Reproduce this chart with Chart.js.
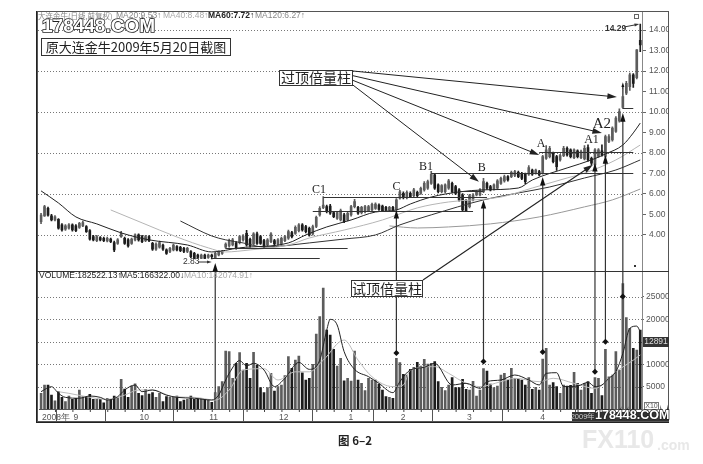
<!DOCTYPE html>
<html>
<head>
<meta charset="utf-8">
<script src="https://cdn.jsdelivr.net/npm/chart.js@4/dist/chart.umd.min.js"></script>
<style>
  html, body { margin: 0; padding: 0; background: #fff; }
  canvas { display: block; filter: blur(0.35px); }
</style>
</head>
<body>
<canvas id="kline" width="703" height="464"></canvas>
<script>
// Daily prices, ten days to a row
const opens = [
  4.65,4.93,5.30,4.93,4.73,4.76,4.49,4.28,4.33,4.49,
  4.44,4.37,4.44,4.41,4.21,3.92,3.72,3.87,3.84,3.71,
  3.80,3.63,3.59,3.92,3.84,3.76,3.59,3.76,4.00,3.92,
  3.72,3.92,3.59,3.30,3.40,3.51,3.27,3.19,3.27,3.43,
  3.40,3.35,3.19,3.19,3.10,3.02,2.86,3.02,2.90,3.02,
  2.86,3.02,3.10,3.40,3.46,3.51,3.62,3.62,3.76,4.08,
  3.79,3.56,4.05,3.92,3.72,3.51,3.67,3.72,3.56,3.56,
  3.72,3.84,4.11,4.08,4.21,4.49,4.41,4.32,4.05,4.41,
  4.98,5.33,5.38,5.41,5.09,4.81,4.73,4.98,4.73,4.98,
  5.38,5.35,5.09,5.14,5.19,5.22,5.30,5.46,5.41,5.35,
  5.22,5.35,5.25,5.79,6.03,5.82,6.03,5.92,6.08,6.03,
  6.20,6.28,6.52,6.93,6.44,6.11,6.11,6.28,6.52,6.36,
  6.20,5.95,5.66,5.38,5.71,5.95,5.95,6.11,6.52,6.36,
  6.24,6.28,6.52,6.64,6.85,6.85,6.90,7.06,7.01,6.96,
  6.96,7.17,7.01,7.09,7.01,7.74,7.82,7.99,7.82,7.66,
  7.87,8.23,8.15,7.77,8.10,7.77,7.71,8.26,7.74,7.42,
  7.83,8.10,7.83,8.56,8.64,9.05,9.57,10.22,10.92,11.24,
  11.81,11.68,13.50
];
const closes = [
  4.97,5.38,4.97,4.73,4.89,4.33,4.24,4.44,4.49,4.24,
  4.21,4.57,4.60,4.16,3.79,3.76,3.92,3.76,3.72,3.84,
  3.67,3.27,3.76,4.08,3.59,3.46,3.80,4.00,3.76,3.67,
  3.92,3.72,3.30,3.56,3.63,3.30,3.10,3.35,3.51,3.27,
  3.23,3.19,3.35,2.94,2.86,2.90,3.02,2.86,3.02,2.94,
  3.10,3.19,3.19,3.56,3.72,3.76,3.35,3.92,3.95,3.51,
  3.46,4.05,3.59,3.59,3.46,3.76,4.05,3.56,3.76,3.84,
  3.92,4.16,3.92,4.37,4.49,4.24,4.16,4.00,4.41,4.86,
  5.30,5.46,5.14,5.06,4.89,5.09,5.19,4.65,5.06,5.38,
  5.63,5.06,5.35,5.38,5.38,5.50,5.51,5.25,5.19,5.22,
  5.35,5.22,5.71,6.11,5.82,6.08,5.87,6.20,5.92,6.28,
  6.52,6.60,6.96,6.28,6.11,6.41,6.44,6.64,6.11,6.03,
  5.71,5.22,5.17,5.92,5.95,6.11,6.20,6.60,6.28,6.20,
  6.44,6.64,6.76,6.85,6.68,7.06,7.09,6.85,6.76,6.60,
  7.29,6.96,7.17,6.93,7.82,8.15,8.23,7.58,7.33,7.87,
  8.23,7.90,7.82,8.15,7.82,8.07,8.23,7.66,7.50,8.15,
  8.15,7.91,8.80,8.80,9.21,9.70,10.02,10.75,11.40,11.81,
  11.40,13.03,13.28
];
const highs = [
  5.05,5.45,5.36,5.00,4.95,4.80,4.55,4.50,4.55,4.54,
  4.50,4.62,4.68,4.46,4.26,3.98,3.98,3.92,3.90,3.89,
  3.85,3.70,3.82,4.18,3.90,3.82,3.85,4.06,4.05,3.98,
  3.98,3.97,3.64,3.62,3.70,3.56,3.32,3.40,3.56,3.48,
  3.45,3.40,3.40,3.24,3.15,3.07,3.07,3.07,3.07,3.07,
  3.15,3.25,3.25,3.62,3.80,3.84,3.68,3.98,4.02,4.22,
  3.85,4.12,4.14,3.98,3.78,3.82,4.12,3.78,3.82,3.90,
  3.98,4.24,4.18,4.44,4.56,4.55,4.47,4.38,4.48,4.92,
  5.38,5.87,5.46,5.50,5.15,5.15,5.26,5.05,5.12,5.45,
  5.74,5.40,5.40,5.44,5.44,5.56,5.57,5.52,5.46,5.40,
  5.40,5.40,5.78,6.18,6.10,6.15,6.10,6.28,6.14,6.34,
  6.60,6.68,7.10,6.98,6.50,6.46,6.50,6.72,6.58,6.42,
  6.26,6.02,5.72,5.98,6.02,6.16,6.26,6.76,6.58,6.42,
  6.50,6.70,6.82,6.92,6.90,7.12,7.15,7.12,7.06,7.02,
  7.38,7.22,7.22,7.15,7.88,8.36,8.32,8.05,7.88,7.94,
  8.32,8.30,8.20,8.20,8.16,8.14,8.36,8.40,7.80,8.22,
  8.22,8.40,8.88,8.90,9.28,9.78,10.15,11.10,11.50,11.90,
  11.88,13.05,14.29
];
const lows = [
  4.55,4.90,4.92,4.68,4.68,4.28,4.18,4.22,4.28,4.18,
  4.16,4.32,4.40,4.12,3.74,3.71,3.67,3.71,3.67,3.66,
  3.62,3.18,3.54,3.88,3.54,3.40,3.54,3.71,3.70,3.62,
  3.67,3.67,3.25,3.25,3.35,3.25,3.05,3.14,3.22,3.22,
  3.18,3.14,3.14,2.89,2.84,2.86,2.84,2.84,2.85,2.83,
  2.84,2.98,3.05,3.34,3.40,3.46,3.30,3.56,3.70,3.45,
  3.40,3.50,3.54,3.54,3.40,3.45,3.62,3.50,3.50,3.50,
  3.67,3.78,3.86,4.02,4.15,4.19,4.10,3.94,3.99,4.36,
  4.92,5.28,5.08,5.00,4.84,4.76,4.68,4.60,4.68,4.92,
  5.32,5.00,5.03,5.08,5.14,5.17,5.25,5.20,5.14,5.17,
  5.18,5.18,5.20,5.74,5.76,5.76,5.82,5.86,5.86,5.98,
  6.14,6.22,6.46,6.22,6.05,6.05,6.05,6.22,6.05,5.96,
  5.65,5.16,5.13,5.32,5.66,5.90,5.90,6.06,6.22,6.15,
  6.18,6.22,6.46,6.58,6.62,6.80,6.85,6.80,6.70,6.50,
  6.90,6.90,6.96,6.88,6.96,7.68,7.76,7.52,7.15,7.60,
  7.82,7.85,7.76,7.72,7.76,7.72,7.66,7.60,7.42,7.36,
  7.78,7.85,7.78,8.50,8.58,9.00,9.50,10.18,10.85,11.05,
  11.20,11.62,12.95
];
const volumes = [
  3500,5350,5350,3100,1800,3900,2600,1650,2900,2150,
  2400,4250,2750,2750,3300,2150,2150,2150,1400,2400,
  2150,2900,2500,6600,4450,2600,5100,5600,3500,3000,
  4400,3350,3650,2600,3500,1650,2750,2600,2600,2900,
  1650,2000,2150,2900,2150,2300,2300,2150,2150,1500,
  3650,5000,6100,12950,12800,6850,10200,12570,8700,10200,
  6850,12650,9800,4760,3650,4760,7950,4000,5000,5350,
  7440,11700,9080,10900,11800,8100,6470,6850,9970,16700,
  20600,27000,17600,16500,13300,9600,11300,6300,6850,6250,
  12950,6470,5730,4090,6850,6470,6470,5580,4240,2750,
  2600,2380,11300,10340,7740,7590,8850,9300,10400,9600,
  11100,10000,10200,10560,6100,4840,4100,5360,7000,4760,
  4760,6620,4390,4240,6175,2900,4240,9000,8480,5580,
  4760,5130,7590,7960,6470,9080,6850,6700,6470,5360,
  7000,4390,4840,4240,11160,13540,5360,5880,5000,3500,
  5360,5130,5280,8180,5730,4240,5730,6100,3500,7000,
  6850,2980,13300,7200,7590,12800,8700,28000,20400,18000,
  13540,13170,17600
];

// Moving averages, read at the bends of each curve: [day, value]
const ma20 = [[0,6.15],[5,5.56],[10,4.88],[16,4.54],[23,4.10],[31,3.76],[42,3.51],[49,3.17],[57,3.37],[71,3.61],[76,4.00],[82,4.39],[89,4.73],[96,5.12],[102,5.22],[106,5.51],[112,5.85],[120,6.10],[127,6.20],[137,6.29],[141,6.68],[151,7.27],[158,7.66],[162,7.95],[167,8.39],[170,8.98],[172,9.46]];
const ma40 = [[20,5.22],[29,4.59],[39,3.90],[48,3.37],[53,3.17],[60,3.27],[71,3.51],[77,3.85],[87,4.24],[98,4.73],[108,5.32],[117,5.61],[132,5.85],[141,6.29],[151,6.78],[156,7.02],[165,7.66],[172,8.39]];
const ma60 = [[40,4.68],[49,3.95],[53,3.76],[58,3.61],[64,3.41],[77,3.61],[87,3.80],[96,4.00],[103,4.49],[112,4.98],[127,5.71],[137,6.05],[146,6.34],[156,6.78],[165,7.17],[172,7.66]];
const ma120 = [[100,4.44],[108,4.34],[117,4.39],[129,4.54],[143,4.88],[156,5.37],[164,5.71],[172,6.24]];
const volMa5 = [[0,3870],[3,4980],[5,3500],[7,2600],[11,2400],[14,2900],[17,2600],[19,2000],[22,2750],[24,4240],[27,5350],[29,3870],[32,4240],[36,3100],[39,2600],[44,2400],[49,2000],[51,3100],[53,6470],[54,7960],[57,10800],[59,9600],[61,10200],[64,8700],[67,5000],[70,6850],[74,10400],[77,8850],[80,10900],[82,17600],[83,20000],[85,18750],[87,12800],[90,8850],[94,7220],[97,5730],[101,3650],[103,6100],[106,8700],[110,9300],[113,10200],[118,5360],[122,5730],[126,4610],[128,6100],[132,6470],[136,7590],[140,6470],[143,5360],[145,7960],[148,8100],[150,5000],[154,5130],[157,5950],[159,5000],[161,5360],[163,6850],[165,8330],[167,12400],[169,18000],[171,18500],[172,17260]];
const volMa10 = [[5,3870],[8,3500],[13,2750],[19,2150],[24,3100],[28,4240],[32,4240],[38,2750],[44,2600],[50,2000],[54,4240],[58,8700],[64,9000],[68,6470],[73,8300],[77,8300],[81,10900],[87,15400],[91,10900],[95,7200],[101,5000],[104,5350],[106,8700],[113,9450],[117,7960],[122,5730],[126,5000],[132,6100],[136,6850],[143,6100],[147,6850],[153,5730],[159,4600],[165,8330],[170,10900],[172,12050]];

// Axis ticks
const priceTicks = [14,13,12,11,10,9,8,7,6,5,4];
const volumeTicks = [25000,20000,15000,10000,5000];
const monthStarts = [0,9,28,48,68,88,103,122,143];
const monthNames = ['2008年','9','10','11','12','1','2','3','4'];

// Hand drawn notes of the book, in day / price / volume units
const levelLines = [[49,80,2.88],[53,88,3.37],[78,124,5.19],[81,128,5.85],[120,127,6.16],[112,170,7.03],[143,170,8.07],[167,170,10.2]];
const riseDays = [50,102,127,144,159,162,167];
const riseVolumes = [3650,12500,10600,12700,8300,15000,25100];
const risePrices = [2.63,5.22,5.71,6.83,7.51,7.90,9.95];
const overDays = [165.3,161,143,125.7];
const overPrices = [10.73,8.98,7.9,6.59];
const letterNames = ['C1','C','B1','B','A','A1','A2'];
const letterDays = [79.8,102,110.5,126.5,143.5,158,161];
const letterPrices = [6.2,6.34,7.32,7.27,8.44,8.63,9.41];

const days = opens.map((_, i) => String(i));
const fullSeries = pairs => {
  const out = days.map(() => null);
  pairs.forEach(p => { out[p[0]] = p[1]; });
  return out;
};
const upColor = '#5c5c5c';
const downColor = '#1c1c1c';
const barColors = closes.map((c, i) => c >= opens[i] ? upColor : downColor);

function maLine(label, pairs, color, width, axis) {
  return { type: 'line', label, data: fullSeries(pairs), yAxisID: axis, borderColor: color, borderWidth: width,
    pointRadius: 0, spanGaps: true, cubicInterpolationMode: 'monotone', order: 1 };
}

function arrow(ctx, x1, y1, x2, y2, width, head) {
  const a = Math.atan2(y2 - y1, x2 - x1);
  ctx.lineWidth = width;
  ctx.beginPath();
  ctx.moveTo(x1, y1);
  ctx.lineTo(x2 - Math.cos(a) * head * 0.7, y2 - Math.sin(a) * head * 0.7);
  ctx.stroke();
  ctx.beginPath();
  ctx.moveTo(x2, y2);
  ctx.lineTo(x2 - Math.cos(a - 0.3) * head, y2 - Math.sin(a - 0.3) * head);
  ctx.lineTo(x2 - Math.cos(a + 0.3) * head, y2 - Math.sin(a + 0.3) * head);
  ctx.closePath();
  ctx.fill();
}

function textBox(ctx, text, x, y, w, h, size) {
  ctx.fillStyle = '#fff';
  ctx.fillRect(x, y, w, h);
  ctx.strokeStyle = '#333';
  ctx.lineWidth = 1;
  ctx.strokeRect(x + 0.5, y + 0.5, w - 1, h - 1);
  ctx.fillStyle = '#222';
  ctx.font = size + 'px "Noto Sans CJK SC"';
  ctx.textAlign = 'center';
  ctx.textBaseline = 'middle';
  ctx.fillText(text, x + w / 2, y + h / 2);
}

// dotted guide lines behind the bars: every second price tick, every volume tick
const dottedGrid = {
  id: 'dottedGrid',
  beforeDatasetsDraw(chart) {
    const { ctx, chartArea, scales } = chart;
    const rows = priceTicks.filter(v => v % 2 === 0).map(v => scales.y.getPixelForValue(v))
      .concat(volumeTicks.map(v => scales.yv.getPixelForValue(v)));
    ctx.save();
    ctx.strokeStyle = '#777';
    ctx.lineWidth = 1;
    ctx.setLineDash([1, 2]);
    rows.forEach(y => {
      const py = Math.round(y) + 0.5;
      ctx.beginPath();
      ctx.moveTo(38, py);
      ctx.lineTo(chartArea.right, py);
      ctx.stroke();
    });
    ctx.restore();
  }
};

const notes = {
  id: 'notes',
  afterDatasetsDraw(chart) {
    const { ctx, scales } = chart;
    const X = scales.x, P = scales.y, V = scales.yv;
    ctx.save();

    // frame and the panel border
    ctx.strokeStyle = '#222';
    ctx.lineWidth = 2;
    ctx.beginPath();
    ctx.moveTo(37, 11); ctx.lineTo(37, 422); ctx.lineTo(669, 422);
    ctx.stroke();
    ctx.lineWidth = 1;
    ctx.strokeStyle = '#555';
    ctx.strokeRect(37.5, 11.5, 631, 410);
    ctx.strokeStyle = '#333';
    ctx.beginPath();
    ctx.moveTo(37, 271.5); ctx.lineTo(669, 271.5);
    ctx.stroke();

    // day dots on the date strip
    ctx.fillStyle = '#444';
    for (let d = 4; d < 173; d += 5) ctx.fillRect(X.getPixelForValue(d), 410, 1, 2);

    // level lines
    ctx.strokeStyle = '#333';
    ctx.lineWidth = 1;
    levelLines.forEach(l => {
      const y = Math.round(P.getPixelForValue(l[2])) + 0.5;
      ctx.beginPath();
      ctx.moveTo(X.getPixelForValue(l[0]), y);
      ctx.lineTo(X.getPixelForValue(l[1]), y);
      ctx.stroke();
    });

    // volume bars pointing up at their candles
    ctx.strokeStyle = '#333';
    ctx.fillStyle = '#111';
    riseDays.forEach((d, i) => {
      const x = X.getPixelForValue(d);
      const vy = V.getPixelForValue(riseVolumes[i]);
      arrow(ctx, x, vy, x, P.getPixelForValue(risePrices[i]), 1.2, 9);
      if (i > 0) {
        ctx.beginPath();
        ctx.moveTo(x, vy - 3); ctx.lineTo(x + 3, vy); ctx.lineTo(x, vy + 3); ctx.lineTo(x - 3, vy);
        ctx.closePath();
        ctx.fill();
      }
    });
    // small marker over the last big candle
    arrow(ctx, X.getPixelForValue(167), P.getPixelForValue(11.1), X.getPixelForValue(167), P.getPixelForValue(11.45), 1.5, 5);

    // pointers from the two captions
    ctx.strokeStyle = '#222';
    ctx.fillStyle = '#222';
    overDays.forEach((d, i) => {
      arrow(ctx, 353, 71 + i * 4.7, X.getPixelForValue(d), P.getPixelForValue(overPrices[i]), 1, 10);
    });
    arrow(ctx, 423, 280, X.getPixelForValue(158.4), P.getPixelForValue(7.42), 1.1, 10);

    textBox(ctx, '原大连金牛2009年5月20日截图', 41, 38, 190, 18, 13);
    textBox(ctx, '过顶倍量柱', 279, 70, 74, 16, 14);
    textBox(ctx, '试顶倍量柱', 351, 280, 72, 17, 14);

    // letters over the tops
    ctx.fillStyle = '#222';
    ctx.textAlign = 'center';
    ctx.textBaseline = 'middle';
    letterNames.forEach((t, i) => {
      ctx.font = (t === 'A2' ? '15px' : '12px') + ' "Liberation Serif"';
      ctx.fillText(t, X.getPixelForValue(letterDays[i]), P.getPixelForValue(letterPrices[i]));
    });

    // low and high callouts
    ctx.font = '8.5px "Liberation Sans"';
    ctx.fillStyle = '#333';
    ctx.textAlign = 'left';
    ctx.fillText('2.83', 183, 262);
    ctx.strokeStyle = '#333';
    ctx.fillStyle = '#333';
    arrow(ctx, 198, 262, X.getPixelForValue(49), 262, 1, 5);
    ctx.font = 'bold 8.5px "Liberation Sans"';
    ctx.fillText('14.29', 605, 29);
    arrow(ctx, 624, 27, X.getPixelForValue(172) - 1, P.getPixelForValue(14.29), 1, 5);
    ctx.strokeStyle = '#666';
    ctx.strokeRect(634.5, 14.5, 4, 4);
    ctx.fillRect(634, 265, 2, 2);

    // site mark under the price read outs
    ctx.textBaseline = 'middle';
    ctx.font = 'bold 19px "Liberation Sans"';
    ctx.strokeStyle = '#222';
    ctx.lineWidth = 1.6;
    ctx.strokeText('178448.COM', 42, 27);
    ctx.fillStyle = '#fff';
    ctx.fillText('178448.COM', 42, 27);

    // indicator read outs
    ctx.font = '7.5px "Noto Sans CJK SC"';
    ctx.fillStyle = '#888';
    ctx.fillText('大连金牛(日线,前复权)', 38, 16);
    ctx.font = '8.5px "Liberation Sans"';
    ctx.fillText('MA20:9.53↑', 116, 16);
    ctx.fillStyle = '#aaa';
    ctx.fillText('MA40:8.48↑', 163, 16);
    ctx.fillStyle = '#222';
    ctx.font = 'bold 8.5px "Liberation Sans"';
    ctx.fillText('MA60:7.72↑', 208, 16);
    ctx.font = '8.5px "Liberation Sans"';
    ctx.fillStyle = '#888';
    ctx.fillText('MA120:6.27↑', 255, 16);
    ctx.fillStyle = '#222';
    ctx.fillText('VOLUME:182522.13↑', 39, 276);
    ctx.fillText('MA5:166322.00↓', 120, 276);
    ctx.fillStyle = '#aaa';
    ctx.fillText('MA10:142074.91↑', 184, 276);

    // price box and unit on the volume axis
    ctx.fillStyle = '#333';
    ctx.fillRect(643, 337, 26, 10);
    ctx.fillStyle = '#ddd';
    ctx.font = '8.5px "Liberation Sans"';
    ctx.textAlign = 'center';
    ctx.fillText('12891', 656, 342);
    ctx.strokeStyle = '#777';
    ctx.lineWidth = 1;
    ctx.strokeRect(644.5, 402.5, 14, 7);
    ctx.fillStyle = '#555';
    ctx.font = '7px "Liberation Sans"';
    ctx.fillText('X10', 651.5, 406);

    // date cursor and site marks
    ctx.fillStyle = '#333';
    ctx.fillRect(572, 412, 22, 9);
    ctx.fillStyle = '#ccc';
    ctx.font = '7.5px "Liberation Sans"';
    ctx.fillText('2009年', 583, 416.5);
    ctx.fillStyle = '#333';
    ctx.fillRect(594, 412, 75, 9);
    ctx.font = 'bold 12.5px "Liberation Sans"';
    ctx.textAlign = 'left';
    ctx.strokeStyle = '#222';
    ctx.lineWidth = 1.5;
    ctx.strokeText('178448.COM', 595, 416);
    ctx.fillStyle = '#fff';
    ctx.fillText('178448.COM', 595, 416);

    ctx.fillStyle = '#222';
    ctx.font = 'bold 11.5px "Noto Sans CJK SC"';
    ctx.textAlign = 'center';
    ctx.fillText('图 6–2', 355, 441);

    ctx.fillStyle = '#e8e8e8';
    ctx.font = 'bold 25px "Liberation Sans"';
    ctx.textAlign = 'left';
    ctx.fillText('FX110', 582, 441);
    ctx.font = 'bold 14px "Liberation Sans"';
    ctx.fillText('.com', 657, 446);
    ctx.restore();
  }
};

new Chart(document.getElementById('kline'), {
  type: 'bar',
  data: {
    labels: days,
    datasets: [
      maLine('MA20', ma20, '#222', 1, 'y'),
      maLine('MA40', ma40, '#b5b5b5', 1, 'y'),
      maLine('MA60', ma60, '#333', 1, 'y'),
      maLine('MA120', ma120, '#999', 1, 'y'),
      maLine('MA5', volMa5, '#222', 1, 'yv'),
      maLine('MA10', volMa10, '#bbb', 1, 'yv'),
      { label: 'body', data: opens.map((o, i) => [o, closes[i]]), yAxisID: 'y', backgroundColor: barColors,
        barThickness: 2, grouped: false, order: 2 },
      { label: 'wick', data: lows.map((l, i) => [l, highs[i]]), yAxisID: 'y', backgroundColor: barColors,
        barThickness: 1, grouped: false, order: 3 },
      { label: 'VOLUME', data: volumes, yAxisID: 'yv', backgroundColor: barColors,
        barThickness: 2, grouped: false, order: 2 }
    ]
  },
  options: {
    responsive: false,
    animation: false,
    layout: { padding: { left: 39.3, top: 11, right: 34, bottom: 42 } },
    plugins: { legend: { display: false }, tooltip: { enabled: false } },
    scales: {
      x: {
        afterFit(s) { s.height = 13; },
        afterBuildTicks(s) { s.ticks = monthStarts.map(v => ({ value: v })); },
        grid: { drawOnChartArea: false, tickLength: 13, color: '#555' },
        border: { color: '#555' },
        ticks: {
          autoSkip: false, maxRotation: 0, align: 'start', labelOffset: 1, padding: -9,
          color: '#555', font: { family: 'Liberation Sans', size: 8.5 },
          callback: v => monthNames[monthStarts.indexOf(v)]
        }
      },
      y: {
        position: 'right', stack: 'panels', stackWeight: 260, weight: 0,
        min: 2.24, max: 14.93,
        afterFit(s) { s.width = 27; },
        afterBuildTicks(s) { s.ticks = priceTicks.map(v => ({ value: v })); },
        grid: { drawOnChartArea: false, color: '#666', tickLength: 4 },
        border: { color: '#888' },
        ticks: { color: '#555', padding: 3, font: { family: 'Liberation Sans', size: 8.5 }, callback: v => v.toFixed(2) }
      },
      yv: {
        position: 'right', stack: 'panels', stackWeight: 138, weight: 1,
        min: 0, max: 30800,
        afterFit(s) { s.width = 27; },
        afterBuildTicks(s) { s.ticks = volumeTicks.map(v => ({ value: v })); },
        grid: { drawOnChartArea: false, color: '#666', tickLength: 2 },
        border: { color: '#888' },
        ticks: { color: '#555', padding: 2, font: { family: 'Liberation Sans', size: 8.5 }, callback: v => String(v) }
      }
    }
  },
  plugins: [dottedGrid, notes]
});
</script>
</body>
</html>
